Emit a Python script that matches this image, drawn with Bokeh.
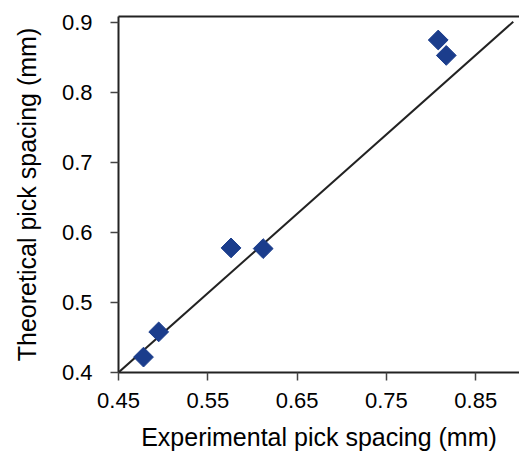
import math
from bokeh.plotting import figure
from bokeh.models import LinearAxis, FixedTicker, Range1d
from bokeh.embed import file_html
from bokeh.resources import INLINE

# data
exp_spacing = [0.478, 0.495, 0.576, 0.612, 0.808, 0.817]
theo_spacing = [0.422, 0.458, 0.578, 0.577, 0.875, 0.853]
fit_x = [0.45, 0.892]
fit_y = [0.40, 0.901]
x_ticks = [0.45, 0.55, 0.65, 0.75, 0.85]
y_ticks = [0.4, 0.5, 0.6, 0.7, 0.8, 0.9]

FONT = "Liberation Sans"

p = figure(width=519, height=459, output_backend="svg", toolbar_location=None,
           x_range=Range1d(0.45, 0.899), y_range=Range1d(0.4, 0.9086),
           min_border_left=118, min_border_right=0, min_border_top=16,
           min_border_bottom=87)
p.outline_line_color = None
p.xgrid.visible = False
p.ygrid.visible = False
p.background_fill_color = "white"

p.line(fit_x, fit_y, line_color="#222222", line_width=2)
p.scatter(exp_spacing, theo_spacing, marker="square", angle=math.pi / 4,
          size=14, fill_color="#1b3d8c", line_color="#1b3d8c", line_width=1)

for ax in (p.xaxis[0], p.yaxis[0]):
    ax.axis_line_color = "#222222"
    ax.axis_line_width = 2
    ax.major_tick_line_color = "#444444"
    ax.major_tick_line_width = 1.5
    ax.major_tick_out = 8
    ax.major_tick_in = 0
    ax.minor_tick_line_color = None
    ax.major_label_text_font = FONT
    ax.major_label_text_font_size = "22px"
    ax.major_label_text_color = "black"
    ax.axis_label_text_font = FONT
    ax.axis_label_text_font_size = "25px"
    ax.axis_label_text_font_style = "normal"
    ax.axis_label_text_color = "black"

p.xaxis[0].ticker = FixedTicker(ticks=x_ticks)
p.yaxis[0].ticker = FixedTicker(ticks=y_ticks)
p.xaxis[0].major_label_overrides = {t: f"{t:.2f}" for t in x_ticks}
p.yaxis[0].major_label_overrides = {t: f"{t:.1f}" for t in y_ticks}
p.xaxis[0].axis_label = "Experimental pick spacing (mm)"
p.yaxis[0].axis_label = "Theoretical pick spacing (mm)"
p.xaxis[0].major_label_standoff = 12
p.xaxis[0].axis_label_standoff = 12
p.yaxis[0].major_label_standoff = 18
p.yaxis[0].axis_label_standoff = 18

top = LinearAxis(axis_line_color="#222222", axis_line_width=2,
                 major_tick_line_color=None, minor_tick_line_color=None,
                 major_label_text_font_size="0px", major_label_standoff=0,
                 ticker=FixedTicker(ticks=[]))
p.add_layout(top, "above")

open("out.html", "w").write(file_html(p, INLINE))
